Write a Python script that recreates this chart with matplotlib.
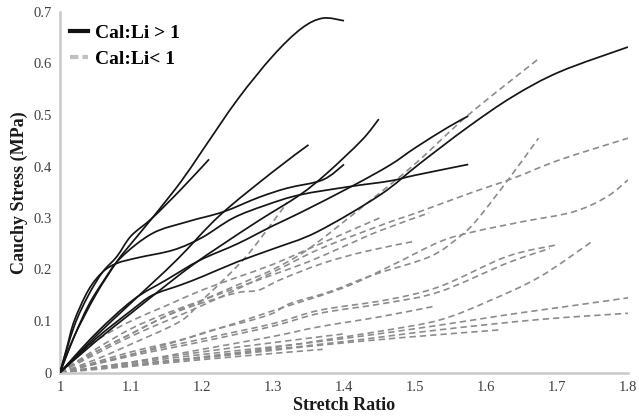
import numpy as np
import matplotlib
matplotlib.use("Agg")
import matplotlib.pyplot as plt
from matplotlib.path import Path
from matplotlib.patches import PathPatch
from matplotlib.lines import Line2D

# ---------------- data: Cal:Li > 1 (solid black) ----------------
hiA_x = [1, 1.02, 1.05, 1.08, 1.10, 1.13, 1.17, 1.20, 1.25, 1.30, 1.34, 1.37, 1.40]
hiA_y = [0, 0.07, 0.15, 0.215, 0.25, 0.30, 0.37, 0.43, 0.53, 0.615, 0.668, 0.688, 0.683]
hiB_x = [1, 1.02, 1.04, 1.06, 1.08, 1.10, 1.13, 1.17, 1.21]
hiB_y = [0, 0.09, 0.15, 0.195, 0.225, 0.265, 0.30, 0.355, 0.414]
hiC_x = [1, 1.05, 1.10, 1.164, 1.225, 1.30, 1.35]
hiC_y = [0, 0.07, 0.135, 0.218, 0.305, 0.39, 0.442]
hiD_x = [1, 1.05, 1.10, 1.15, 1.188, 1.225, 1.28, 1.338, 1.376, 1.425, 1.449]
hiD_y = [0, 0.06, 0.115, 0.17, 0.21, 0.245, 0.295, 0.345, 0.387, 0.451, 0.492]
hiE_x = [1, 1.02, 1.04, 1.06, 1.085, 1.13, 1.18, 1.23, 1.28, 1.32, 1.37, 1.40]
hiE_y = [0, 0.07, 0.13, 0.175, 0.222, 0.27, 0.293, 0.312, 0.34, 0.358, 0.374, 0.404]
hiF_x = [1, 1.05, 1.103, 1.15, 1.197, 1.25, 1.30, 1.338, 1.413, 1.465, 1.50, 1.545, 1.575]
hiF_y = [0, 0.075, 0.141, 0.18, 0.218, 0.25, 0.285, 0.31, 0.363, 0.403, 0.436, 0.475, 0.498]
hiG_x = [1, 1.01, 1.02, 1.04, 1.06, 1.08, 1.11, 1.16, 1.20, 1.244, 1.29, 1.338, 1.408, 1.465, 1.50, 1.575]
hiG_y = [0, 0.05, 0.10, 0.16, 0.195, 0.212, 0.223, 0.238, 0.262, 0.30, 0.325, 0.345, 0.361, 0.372, 0.383, 0.404]
hiH_x = [1, 1.05, 1.10, 1.13, 1.17, 1.20, 1.25, 1.30, 1.362, 1.451, 1.507, 1.575, 1.638, 1.704, 1.80]
hiH_y = [0, 0.065, 0.12, 0.15, 0.17, 0.186, 0.215, 0.24, 0.273, 0.345, 0.406, 0.477, 0.536, 0.584, 0.632]

# ---------------- data: Cal:Li < 1 (dashed grey) ----------------
lo1_x = [1, 1.05, 1.10, 1.17, 1.20, 1.24, 1.27, 1.32]
lo1_y = [0, 0.025, 0.055, 0.10, 0.14, 0.193, 0.238, 0.33]
lo2_x = [1, 1.05, 1.10, 1.15, 1.20, 1.25, 1.30, 1.35, 1.42, 1.50, 1.575, 1.673]
lo2_y = [0, 0.04, 0.075, 0.11, 0.14, 0.17, 0.20, 0.24, 0.315, 0.405, 0.50, 0.608]
lo3_x = [1, 1.03, 1.06, 1.10, 1.15, 1.20, 1.25, 1.30, 1.35, 1.40, 1.45]
lo3_y = [0, 0.04, 0.07, 0.10, 0.13, 0.16, 0.185, 0.21, 0.24, 0.27, 0.30]
lo4_x = [1, 1.05, 1.10, 1.15, 1.20, 1.25, 1.30, 1.35, 1.40, 1.45, 1.52]
lo4_y = [0, 0.045, 0.085, 0.115, 0.14, 0.165, 0.19, 0.215, 0.245, 0.275, 0.31]
lo5_x = [1, 1.10, 1.20, 1.30, 1.366, 1.46, 1.50, 1.577, 1.638, 1.704, 1.80]
lo5_y = [0, 0.07, 0.13, 0.195, 0.24, 0.29, 0.309, 0.348, 0.377, 0.413, 0.455]
lo6_x = [1, 1.05, 1.10, 1.169, 1.216, 1.263, 1.30, 1.324, 1.38, 1.44, 1.521, 1.563, 1.587, 1.631, 1.674]
lo6_y = [0, 0.02, 0.04, 0.063, 0.083, 0.099, 0.115, 0.134, 0.157, 0.189, 0.225, 0.264, 0.296, 0.374, 0.455]
lo7_x = [1, 1.10, 1.20, 1.30, 1.40, 1.47, 1.535, 1.582, 1.652, 1.723, 1.77, 1.80]
lo7_y = [0, 0.035, 0.075, 0.12, 0.165, 0.21, 0.254, 0.273, 0.293, 0.312, 0.341, 0.374]
lo8_x = [1, 1.05, 1.10, 1.15, 1.20, 1.25, 1.28, 1.31, 1.37, 1.43, 1.50]
lo8_y = [0, 0.04, 0.075, 0.11, 0.135, 0.155, 0.16, 0.18, 0.212, 0.235, 0.255]
lo9_x = [1, 1.10, 1.20, 1.30, 1.366, 1.46, 1.535, 1.629, 1.70]
lo9_y = [0, 0.035, 0.065, 0.095, 0.121, 0.141, 0.167, 0.225, 0.248]
lo10_x = [1, 1.10, 1.20, 1.30, 1.366, 1.46, 1.535, 1.629, 1.69]
lo10_y = [0, 0.032, 0.06, 0.09, 0.115, 0.135, 0.157, 0.212, 0.241]
lo11_x = [1, 1.10, 1.20, 1.30, 1.366, 1.45, 1.525]
lo11_y = [0, 0.02, 0.045, 0.07, 0.089, 0.108, 0.128]
lo12_x = [1, 1.10, 1.20, 1.30, 1.366, 1.45, 1.535, 1.606, 1.676, 1.749]
lo12_y = [0, 0.015, 0.03, 0.048, 0.062, 0.08, 0.102, 0.14, 0.186, 0.254]
lo13_x = [1, 1.10, 1.20, 1.30, 1.40, 1.535, 1.629, 1.723, 1.80]
lo13_y = [0, 0.018, 0.035, 0.05, 0.066, 0.092, 0.112, 0.13, 0.145]
lo14_x = [1, 1.10, 1.20, 1.30, 1.40, 1.535, 1.676, 1.80]
lo14_y = [0, 0.015, 0.03, 0.045, 0.06, 0.083, 0.103, 0.115]
lo15_x = [1, 1.10, 1.20, 1.30, 1.366, 1.484, 1.622]
lo15_y = [0, 0.014, 0.028, 0.043, 0.053, 0.068, 0.083]
lo16_x = [1, 1.10, 1.20, 1.30, 1.40]
lo16_y = [0, 0.02, 0.04, 0.058, 0.075]
lo17_x = [1, 1.10, 1.20, 1.30, 1.37]
lo17_y = [0, 0.012, 0.025, 0.037, 0.045]

x_ticks = [1, 1.1, 1.2, 1.3, 1.4, 1.5, 1.6, 1.7, 1.8]
x_tick_labels = ["1", "1.1", "1.2", "1.3", "1.4", "1.5", "1.6", "1.7", "1.8"]
y_ticks = [0, 0.1, 0.2, 0.3, 0.4, 0.5, 0.6, 0.7]
y_tick_labels = ["0", "0.1", "0.2", "0.3", "0.4", "0.5", "0.6", "0.7"]
legend_labels = ["Cal:Li > 1", "Cal:Li< 1"]

high_series = [(hiA_x, hiA_y), (hiB_x, hiB_y), (hiC_x, hiC_y), (hiD_x, hiD_y),
               (hiE_x, hiE_y), (hiF_x, hiF_y), (hiG_x, hiG_y), (hiH_x, hiH_y)]
low_series = [(lo1_x, lo1_y), (lo2_x, lo2_y), (lo3_x, lo3_y), (lo4_x, lo4_y),
              (lo5_x, lo5_y), (lo6_x, lo6_y), (lo7_x, lo7_y), (lo8_x, lo8_y),
              (lo9_x, lo9_y), (lo10_x, lo10_y), (lo11_x, lo11_y), (lo12_x, lo12_y),
              (lo13_x, lo13_y), (lo14_x, lo14_y), (lo15_x, lo15_y), (lo16_x, lo16_y),
              (lo17_x, lo17_y)]


def smooth_path(xs, ys):
    """Smoothed line (Catmull-Rom as cubic Bezier), like a spreadsheet smoothed line."""
    p = np.column_stack([xs, ys]).astype(float)
    n = len(p)
    verts = [p[0]]
    codes = [Path.MOVETO]
    for i in range(n - 1):
        p0 = p[i - 1] if i > 0 else p[i]
        p1 = p[i]
        p2 = p[i + 1]
        p3 = p[i + 2] if i + 2 < n else p[i + 1]
        c1 = p1 + (p2 - p0) / 6.0
        c2 = p2 - (p3 - p1) / 6.0
        verts += [c1, c2, p2]
        codes += [Path.CURVE4] * 3
    return Path(verts, codes)


fig = plt.figure(figsize=(6.39, 4.16), dpi=100)
ax = fig.add_axes([60 / 639, 1 - 372.5 / 416, (628 - 60) / 639, (372.5 - 12) / 416])
ax.set_xlim(1, 1.8)
ax.set_ylim(0, 0.7)

for xs, ys in low_series:
    ax.add_patch(PathPatch(smooth_path(xs, ys), facecolor="none", edgecolor="#8c8c8c",
                           lw=1.2, linestyle=(0, (3.8, 2.4)), zorder=2))
for xs, ys in high_series:
    ax.add_patch(PathPatch(smooth_path(xs, ys), facecolor="none", edgecolor="#151515",
                           lw=1.25, zorder=3))

serif = "Liberation Serif"
ax.set_xticks(x_ticks)
ax.set_xticklabels(x_tick_labels, fontfamily=serif, fontsize=10.5, color="#404040")
ax.set_yticks(y_ticks)
ax.set_yticklabels(y_tick_labels, fontfamily=serif, fontsize=10.5, color="#404040")
ax.tick_params(length=0, pad=6)
for s in ["top", "right"]:
    ax.spines[s].set_visible(False)
for s in ["left", "bottom"]:
    ax.spines[s].set_color("#c8c8c8")
    ax.spines[s].set_linewidth(1.8)

ax.set_xlabel("Stretch Ratio", fontfamily=serif, fontsize=13, fontweight="bold",
              color="#1a1a1a", labelpad=2)
ax.set_ylabel("Cauchy Stress (MPa)", fontfamily=serif, fontsize=13, fontweight="bold",
              color="#1a1a1a", labelpad=4)

handles = [Line2D([0], [0], color="#111111", lw=3),
           Line2D([0], [0], color="#c0c0c0", lw=3, linestyle=(0, (2, 1)))]
leg = ax.legend(handles, legend_labels, loc="upper left",
                bbox_to_anchor=(70 / 639, 1 - 24 / 416),
                bbox_transform=fig.transFigure, frameon=False, handlelength=0.9,
                handletextpad=0.4, labelspacing=0.45, borderpad=0, borderaxespad=0,
                prop={"family": serif, "weight": "bold", "size": 14})

fig.savefig("out.png", dpi=100)
